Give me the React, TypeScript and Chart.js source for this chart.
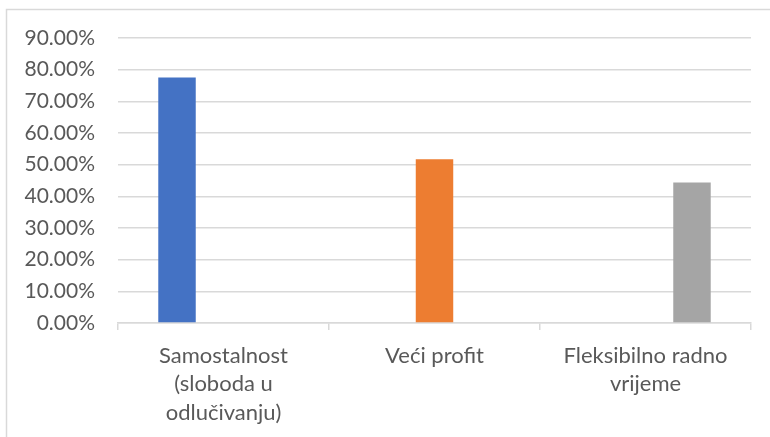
import React, { useEffect, useRef } from "react";
import { Chart, registerables } from "chart.js";

Chart.register(...registerables);

const categories: string[][] = [
  ["Samostalnost", "(sloboda u", "odlučivanju)"],
  ["Veći profit"],
  ["Fleksibilno radno", "vrijeme"],
];
const values: number[] = [77.5, 51.7, 44.4];
const seriesColors: string[] = ["#4472c4", "#ed7d31", "#a5a5a5"];
const yTicks = { min: 0, max: 90, step: 10 };

const TEXT = "#595959";
const GRID = "#d9d9d9";
const FONT = "Lato";

const frame = {
  id: "frame",
  beforeDraw(chart: any) {
    const ctx = chart.ctx;
    ctx.save();
    ctx.fillStyle = "#ffffff";
    ctx.fillRect(0, 0, chart.width, chart.height);
    ctx.strokeStyle = GRID;
    ctx.lineWidth = 1.5;
    ctx.strokeRect(6.5, 9.5, chart.width + 20, chart.height + 20);
    ctx.restore();
  },
};

export default function App() {
  const ref = useRef<HTMLCanvasElement | null>(null);

  useEffect(() => {
    document.body.style.margin = "0";
    if (!ref.current) return;
    const datasets = values.map((v, i) => ({
      label: categories[i].join(" "),
      data: values.map((_, j) => (j === i ? v : null)),
      backgroundColor: seriesColors[i],
      categoryPercentage: 0.661,
      barPercentage: 0.806,
    }));
    const chart = new Chart(ref.current, {
      type: "bar",
      data: { labels: categories, datasets },
      plugins: [frame],
      options: {
        animation: false,
        responsive: false,
        maintainAspectRatio: false,
        layout: { padding: { top: 38, right: 19, left: 0, bottom: 0 } },
        plugins: { legend: { display: false }, tooltip: { enabled: false } },
        scales: {
          x: {
            grid: {
              offset: true,
              drawOnChartArea: false,
              drawTicks: true,
              tickLength: 7,
              color: GRID,
              lineWidth: 1.5,
            },
            border: { display: true, color: GRID, width: 1.5 },
            ticks: {
              color: TEXT,
              font: { family: FONT, size: 22, lineHeight: 1.284 },
              padding: 12,
              maxRotation: 0,
              autoSkip: false,
            },
            afterFit: (axis: any) => {
              axis.height = 114;
            },
          },
          y: {
            min: yTicks.min,
            max: yTicks.max,
            grid: { color: GRID, lineWidth: 1.5, drawTicks: false },
            border: { display: false },
            ticks: {
              stepSize: yTicks.step,
              color: TEXT,
              font: { family: FONT, size: 21 },
              padding: 23,
              callback: (v: any) => Number(v).toFixed(2) + "%",
            },
            afterFit: (axis: any) => {
              axis.width = 118;
            },
          },
        },
      },
    });
    return () => chart.destroy();
  }, []);

  return (
    <div style={{ width: 770, height: 437 }}>
      <canvas ref={ref} width={770} height={437} style={{ display: "block" }} />
    </div>
  );
}
